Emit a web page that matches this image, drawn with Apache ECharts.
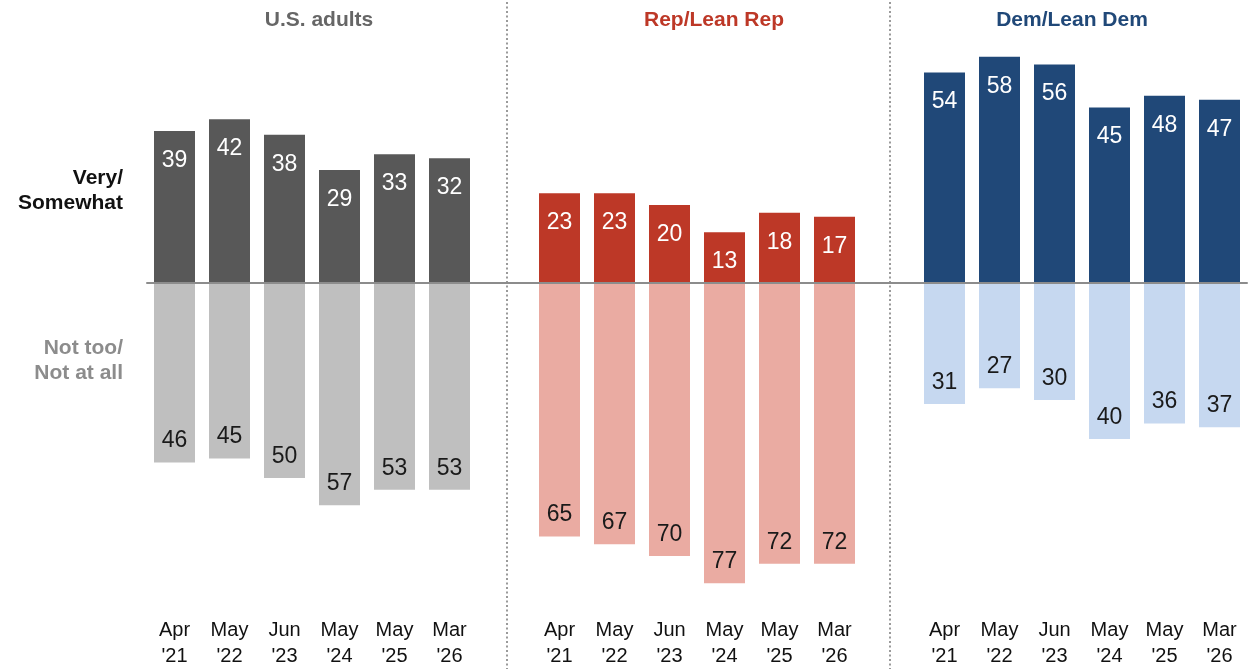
<!DOCTYPE html>
<html>
<head>
<meta charset="utf-8">
<script src="https://cdn.jsdelivr.net/npm/echarts@6/dist/echarts.min.js"></script>
<style>
  html, body { margin: 0; padding: 0; background: #fff; }
  #chart { width: 1249px; height: 669px; }
</style>
</head>
<body>
<div id="chart"></div>
<script>
// Survey waves (two-line axis labels)
const months = ['Apr', 'May', 'Jun', 'May', 'May', 'Mar'];
const years = ["'21", "'22", "'23", "'24", "'25", "'26"];

// Share saying Very/Somewhat vs. Not too/Not at all, by group
const usVery = [39, 42, 38, 29, 33, 32];
const usNot = [46, 45, 50, 57, 53, 53];
const repVery = [23, 23, 20, 13, 18, 17];
const repNot = [65, 67, 70, 77, 72, 72];
const demVery = [54, 58, 56, 45, 48, 47];
const demNot = [31, 27, 30, 40, 36, 37];

const groupTitles = ['U.S. adults', 'Rep/Lean Rep', 'Dem/Lean Dem'];

const FONT = '"Liberation Sans", Arial, sans-serif';

const groups = [
  { very: usVery, not: usNot, dark: '#585858', light: '#bfbfbf', title: '#666666' },
  { very: repVery, not: repNot, dark: '#bd3827', light: '#eaaba2', title: '#bd3827' },
  { very: demVery, not: demNot, dark: '#204878', light: '#c6d8f0', title: '#204878' }
];

// One shared category axis: six waves per group with one empty slot between groups
const cats = [];
const veryData = [];
const notData = [];
groups.forEach((g, gi) => {
  if (gi > 0) {
    cats.push(' '.repeat(gi));
    veryData.push('-');
    notData.push('-');
  }
  months.forEach((m, i) => {
    cats.push(m + '\n' + years[i]);
    veryData.push({ value: g.very[i], itemStyle: { color: g.dark } });
    notData.push({ value: -g.not[i], itemStyle: { color: g.light } });
  });
});

const chart = echarts.init(document.getElementById('chart'), null, { renderer: 'canvas' });

const sideLabel = (text, top, color) => ({
  type: 'text',
  right: 1249 - 123,
  top: top,
  style: {
    text: text,
    fill: color,
    font: 'bold 21px ' + FONT,
    textAlign: 'right',
    lineHeight: 25
  }
});

const separator = (x) => ({
  type: 'line',
  shape: { x1: x, y1: 2, x2: x, y2: 669 },
  style: { stroke: '#9a9a9a', lineWidth: 2, lineDash: [2, 2.5] },
  z: -1
});

const titleStyle = (color) => ({
  color: color, fontSize: 21, fontWeight: 'bold', fontFamily: FONT
});

chart.setOption({
  animation: false,
  backgroundColor: '#ffffff',
  textStyle: { fontFamily: FONT },
  title: [
    { text: groupTitles[0], left: 314, top: 5, textAlign: 'center', textStyle: titleStyle(groups[0].title) },
    { text: groupTitles[1], left: 709, top: 5, textAlign: 'center', textStyle: titleStyle(groups[1].title) },
    { text: groupTitles[2], left: 1067, top: 5, textAlign: 'center', textStyle: titleStyle(groups[2].title) }
  ],
  grid: { left: 147, right: 2, top: 29.5, height: 565.5 },
  xAxis: [
    {
      type: 'category',
      data: cats,
      z: 10,
      axisLine: { show: true, onZero: true, lineStyle: { color: '#8c8c8c', width: 2 } },
      axisTick: { show: false },
      axisLabel: { show: false },
      splitLine: { show: false }
    },
    {
      type: 'category',
      data: cats,
      position: 'bottom',
      axisLine: { show: false, onZero: false },
      axisTick: { show: false },
      splitLine: { show: false },
      axisLabel: {
        show: true, interval: 0, margin: 22,
        color: '#111111', fontSize: 20, lineHeight: 26, fontFamily: FONT
      }
    }
  ],
  yAxis: {
    type: 'value', min: -80, max: 65, show: false
  },
  series: [
    {
      name: 'Very/Somewhat',
      type: 'bar',
      stack: 'total',
      barWidth: 41,
      data: veryData,
      label: {
        show: true, position: 'insideTop', distance: 18,
        color: '#ffffff', fontSize: 23, lineHeight: 23, fontFamily: FONT,
        formatter: (p) => Math.abs(p.value)
      }
    },
    {
      name: 'Not too/Not at all',
      type: 'bar',
      stack: 'total',
      barWidth: 41,
      data: notData,
      label: {
        show: true, position: 'insideBottom', distance: 10,
        color: '#1a1a1a', fontSize: 23, lineHeight: 23, fontFamily: FONT,
        formatter: (p) => Math.abs(p.value)
      }
    }
  ],
  graphic: [
    separator(507),
    separator(890),
    sideLabel('Very/\nSomewhat', 166, '#111111'),
    sideLabel('Not too/\nNot at all', 336, '#8c8c8c')
  ]
});
</script>
</body>
</html>
